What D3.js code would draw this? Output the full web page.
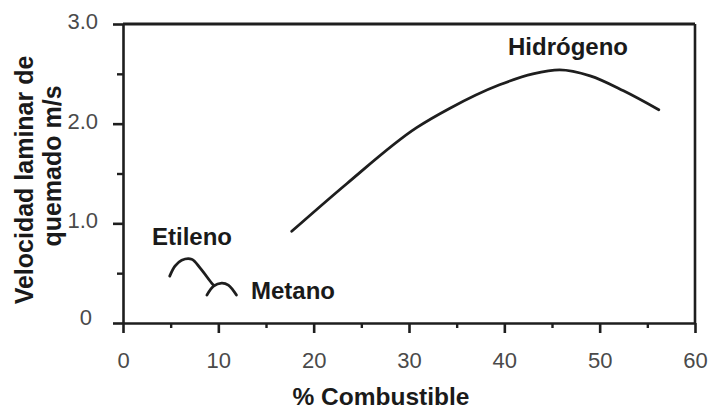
<!DOCTYPE html>
<html>
<head>
<meta charset="utf-8">
<script src="https://cdn.jsdelivr.net/npm/d3@7"></script>
<style>
  html, body { margin: 0; padding: 0; background: #fff; }
  svg { display: block; font-family: "Liberation Sans", Arial, sans-serif; }
</style>
</head>
<body>
<svg id="chart" width="709" height="409"></svg>
<script>
// Laminar burning velocity (m/s) vs. fuel percentage
const hidrogenoX = [17.7, 23.5, 30.8, 34.3, 39.5, 43.0, 45.8, 49.0, 52.5, 56.2];
const hidrogenoY = [0.92, 1.40, 1.96, 2.155, 2.39, 2.50, 2.54, 2.48, 2.33, 2.14];

const etilenoX = [4.9, 5.45, 6.15, 7.2, 8.1, 9.3, 9.5];
const etilenoY = [0.47, 0.57, 0.63, 0.64, 0.55, 0.40, 0.38];

const metanoX = [8.8, 9.5, 10.35, 11.05, 11.9];
const metanoY = [0.28, 0.37, 0.40, 0.38, 0.28];

const xMajorTicks = [0, 10, 20, 30, 40, 50, 60];
const xMinorTicks = [5, 15, 25, 35, 45, 55];
const yMajorTicks = [0, 1, 2, 3];
const yMinorTicks = [0.5, 1.5, 2.5];
const yTickLabels = ["0", "1.0", "2.0", "3.0"];

const seriesNames = ["Hidrógeno", "Etileno", "Metano"];
const xTitle = "% Combustible";
const yTitleLines = ["Velocidad laminar de", "quemado m/s"];

const svg = d3.select("#chart");
const ink = "#1e1e1e";

const x = d3.scaleLinear().domain([0, 60]).range([123, 695]);
const y = d3.scaleLinear().domain([0, 3]).range([323, 24]);

// Minor ticks
svg.append("g")
  .attr("transform", `translate(0,${y(0)})`)
  .call(d3.axisBottom(x).tickValues(xMinorTicks).tickSize(5).tickSizeOuter(0).tickFormat(""))
  .call(g => g.select(".domain").remove())
  .call(g => g.selectAll("line").attr("stroke", ink).attr("stroke-width", 2.4));

svg.append("g")
  .attr("transform", `translate(${x(0)},0)`)
  .call(d3.axisLeft(y).tickValues(yMinorTicks).tickSize(6).tickSizeOuter(0).tickFormat(""))
  .call(g => g.select(".domain").remove())
  .call(g => g.selectAll("line").attr("stroke", ink).attr("stroke-width", 2.4));

// Major x axis
const xAxis = svg.append("g")
  .attr("transform", `translate(0,${y(0)})`)
  .call(d3.axisBottom(x).tickValues(xMajorTicks).tickSize(10).tickSizeOuter(0).tickPadding(24));
xAxis.select(".domain").attr("stroke", ink).attr("stroke-width", 2.6);
xAxis.selectAll("line").attr("stroke", ink).attr("stroke-width", 2.6);
xAxis.selectAll("text")
  .attr("font-size", 22).attr("fill", "#4a4a4a")
  .attr("font-family", "Liberation Sans, Arial, sans-serif")
  .attr("dy", "0.5em");

// Major y axis
const yAxis = svg.append("g")
  .attr("transform", `translate(${x(0)},0)`)
  .call(d3.axisLeft(y).tickValues(yMajorTicks).tickSize(10).tickSizeOuter(0).tickPadding(15)
    .tickFormat((d, i) => yTickLabels[i]));
yAxis.select(".domain").attr("stroke", ink).attr("stroke-width", 2.6);
yAxis.selectAll("line").attr("stroke", ink).attr("stroke-width", 2.6);
yAxis.selectAll("text")
  .attr("font-size", 22).attr("fill", "#4a4a4a")
  .attr("font-family", "Liberation Sans, Arial, sans-serif")
  .attr("dy", "0.2em");
yAxis.selectAll(".tick").filter(d => d === 0).select("text").attr("dx", -6).attr("dy", "0.05em");

// Top and right frame
svg.append("line")
  .attr("x1", x(0)).attr("x2", x(60)).attr("y1", y(3)).attr("y2", y(3))
  .attr("stroke", ink).attr("stroke-width", 2.8);
svg.append("line")
  .attr("x1", x(60)).attr("x2", x(60)).attr("y1", y(3)).attr("y2", y(0))
  .attr("stroke", ink).attr("stroke-width", 2.6);

// Curves
const smooth = d3.line().x(d => x(d[0])).y(d => y(d[1])).curve(d3.curveMonotoneX);
const sketch = d3.line().x(d => x(d[0])).y(d => y(d[1])).curve(d3.curveCatmullRom.alpha(0.5));
const series = [
  { pts: d3.zip(hidrogenoX, hidrogenoY), gen: smooth },
  { pts: d3.zip(etilenoX, etilenoY), gen: sketch },
  { pts: d3.zip(metanoX, metanoY), gen: sketch }
];
svg.append("g").selectAll("path")
  .data(series)
  .join("path")
  .attr("d", d => d.gen(d.pts))
  .attr("fill", "none")
  .attr("stroke", ink)
  .attr("stroke-width", 2.8)
  .attr("stroke-linecap", "round")
  .attr("stroke-linejoin", "round");

// Series labels
const labels = [
  { text: seriesNames[0], x: 508, y: 55 },
  { text: seriesNames[1], x: 152, y: 245 },
  { text: seriesNames[2], x: 251, y: 299 }
];
svg.append("g").selectAll("text")
  .data(labels)
  .join("text")
  .attr("x", d => d.x).attr("y", d => d.y)
  .attr("font-size", 24).attr("font-weight", "bold").attr("fill", "#1a1a1a")
  .text(d => d.text);

// Axis titles
svg.append("text")
  .attr("x", 381).attr("y", 405)
  .attr("text-anchor", "middle")
  .attr("font-size", 24.5).attr("font-weight", "bold").attr("fill", "#1a1a1a")
  .text(xTitle);

svg.append("text")
  .attr("transform", "translate(33,180) rotate(-90)")
  .attr("text-anchor", "middle")
  .attr("font-size", 25).attr("font-weight", "bold").attr("fill", "#1a1a1a")
  .text(yTitleLines[0]);
svg.append("text")
  .attr("transform", "translate(61,166) rotate(-90)")
  .attr("text-anchor", "middle")
  .attr("font-size", 25).attr("font-weight", "bold").attr("fill", "#1a1a1a")
  .text(yTitleLines[1]);
</script>
</body>
</html>
